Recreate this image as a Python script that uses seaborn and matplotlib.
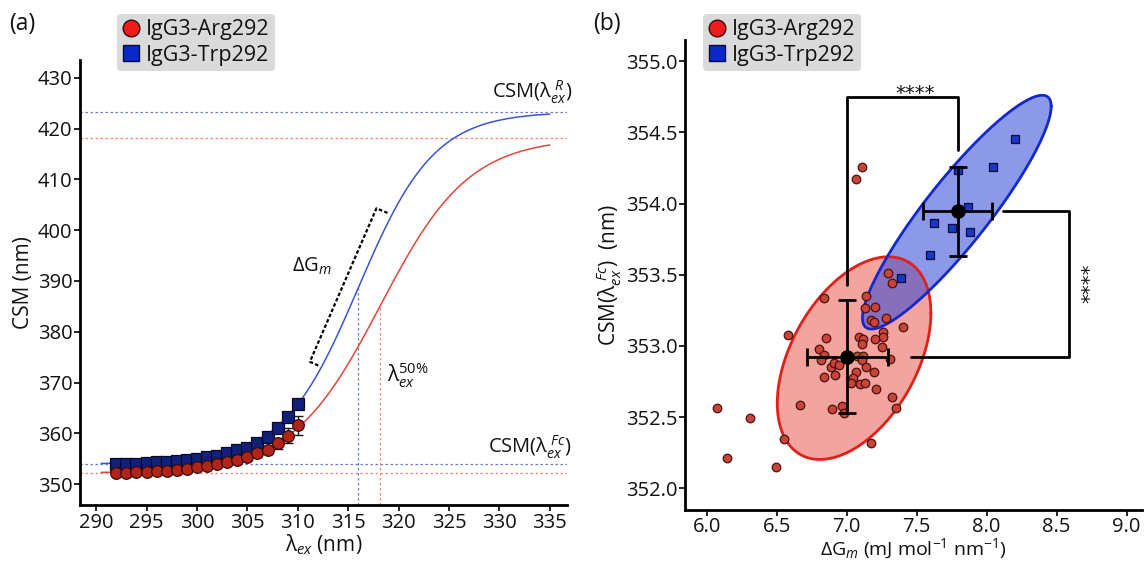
import numpy as np
import pandas as pd
import matplotlib
matplotlib.use("Agg")
import matplotlib.pyplot as plt
from matplotlib.lines import Line2D
import seaborn as sns

# ---------------- (a) CSM versus excitation wavelength ----------------
wavelength_nm = list(range(292, 311))
csm_arg = [352.23, 352.23, 352.31, 352.36, 352.50, 352.62, 352.82, 353.01, 353.29, 353.61,
           353.94, 354.33, 354.67, 355.26, 356.05, 356.76, 358.02, 359.52, 361.57]
csm_arg_err = [0.3, 0.3, 0.3, 0.3, 0.3, 0.3, 0.3, 0.35, 0.35, 0.4,
               0.4, 0.45, 0.5, 0.55, 0.65, 0.8, 1.0, 1.45, 1.85]
csm_trp = [354.00, 354.00, 354.00, 354.14, 354.28, 354.33, 354.53, 354.73, 354.93, 355.26,
           355.58, 356.05, 356.64, 357.15, 358.14, 359.32, 361.03, 363.14, 365.71]

# Sigmoid fits: lower plateau CSM(Fc), upper plateau CSM(R), midpoint lambda50%, slope
fit_arg = [352.2, 418.2, 318.2, 4.4]
fit_trp = [354.0, 423.3, 316.0, 3.77]
fit_wavelength_range = [290.5, 335.0]

# ---------------- (b) CSM(Fc) versus dGm, per sample ----------------
arg_dgm = [6.076, 6.311, 6.143, 6.492, 6.550, 6.581, 6.669, 6.841, 6.851, 6.800,
           6.836, 6.818, 6.890, 6.908, 6.944, 6.841, 6.920, 6.897, 6.968, 6.980,
           7.088, 7.116, 7.112, 7.140, 7.128, 7.202, 7.176, 7.195, 7.279, 7.260,
           7.260, 7.200, 7.250, 7.298, 7.327, 7.399, 7.076, 7.116, 7.107, 7.140,
           7.195, 7.310, 7.064, 7.045, 7.028, 7.095, 7.131, 7.212, 7.322, 7.351,
           7.176, 7.112, 7.064]
arg_csm = [352.560, 352.490, 352.210, 352.146, 352.345, 353.076, 352.584, 353.338, 353.053, 352.975,
           352.935, 352.900, 352.853, 352.881, 352.865, 352.783, 352.795, 352.553, 352.579, 352.530,
           353.060, 353.046, 353.010, 353.352, 353.268, 353.270, 353.181, 353.170, 353.193, 353.100,
           353.064, 353.046, 352.994, 353.510, 353.444, 353.130, 352.930, 352.928, 352.900, 352.853,
           352.818, 352.905, 352.818, 352.771, 352.736, 352.729, 352.740, 352.696, 352.642, 352.565,
           352.319, 354.260, 354.170]
trp_dgm = [8.200, 8.049, 7.793, 7.865, 7.626, 7.753, 7.882, 7.595, 7.387]
trp_csm = [354.452, 354.255, 354.236, 353.974, 353.861, 353.830, 353.798, 353.639, 353.475]

# Group mean +/- SD
mean_dgm = [7.005, 7.793]
mean_csm = [352.925, 353.945]
sd_dgm = [0.29, 0.245]
sd_csm = [0.395, 0.315]

# Distribution ellipses: centre and shape matrix (data units)
ellipse_arg_center = [7.053, 352.914]
ellipse_arg_shape = [[0.3011, 0.174], [0.174, 0.5075]]
ellipse_trp_center = [7.787, 353.940]
ellipse_trp_shape = [[0.4545, 0.5016], [0.5016, 0.6754]]

variant_labels = ["IgG3-Arg292", "IgG3-Trp292"]
significance = "****"

# ---------------- styling ----------------
sns.set_theme(style="ticks")
plt.rcParams.update({
    "font.family": ["Open Sans", "DejaVu Sans"],
    "mathtext.fontset": "custom",
    "mathtext.rm": "Open Sans",
    "mathtext.it": "Open Sans:italic",
    "mathtext.bf": "Open Sans:bold",
    "mathtext.fallback": "stixsans",
    "axes.edgecolor": "black",
    "axes.linewidth": 2.0,
    "xtick.color": "black",
    "ytick.color": "black",
    "xtick.major.size": 4,
    "ytick.major.size": 4,
    "xtick.major.width": 1.2,
    "ytick.major.width": 1.2,
    "xtick.labelsize": 14.5,
    "ytick.labelsize": 14.5,
    "axes.labelsize": 15,
    "axes.labelcolor": "#111111",
    "text.color": "#111111",
    "xtick.labelcolor": "#111111",
    "ytick.labelcolor": "#111111",
})

RED_LINE = "#e0473c"
BLUE_LINE = "#3a55d0"
RED_DOT = "#e88a84"
BLUE_DOT = "#6d7bc8"


def logistic(x, low, high, mid, slope):
    return low + (high - low) / (1.0 + np.exp(-(x - mid) / slope))


fig = plt.figure(figsize=(11.45, 5.62), dpi=100)
W, H = 1145.0, 562.0
axA = fig.add_axes([80 / W, 1 - 505 / H, (567 - 80) / W, (505 - 60) / H])
axB = fig.add_axes([685 / W, 1 - 509.5 / H, (1142 - 685) / W, (509.5 - 40) / H])

for ax in (axA, axB):
    sns.despine(ax=ax)
    ax.tick_params(direction="out", pad=1.5)

# ---------------- panel (a) ----------------
ylimA = (345.9, 433.5)
axA.set_xlim(288.4, 336.7)
axA.set_ylim(*ylimA)

xs = np.linspace(fit_wavelength_range[0], fit_wavelength_range[1], 400)
for params, line_col, dot_col in [(fit_trp, BLUE_LINE, BLUE_DOT), (fit_arg, RED_LINE, RED_DOT)]:
    low, high, mid, slope = params
    axA.axhline(high, color=dot_col, lw=0.9, ls=(0, (2, 2)), zorder=1)
    axA.axhline(low, color=dot_col, lw=0.9, ls=(0, (2, 2)), zorder=1)
    axA.vlines(mid, ylimA[0], (low + high) / 2.0, color=dot_col, lw=0.9,
               linestyles=[(0, (2, 2))], zorder=1)
    sns.lineplot(x=xs, y=logistic(xs, *params), ax=axA, color=line_col, lw=1.1, zorder=2)

scan = pd.DataFrame({"wavelength": wavelength_nm, "arg": csm_arg, "trp": csm_trp,
                     "arg_err": csm_arg_err})
sns.scatterplot(data=scan, x="wavelength", y="trp", ax=axA, marker="s", s=70,
                color="#12207a", edgecolor="#05082a", linewidth=0.9, zorder=3)
axA.errorbar(scan["wavelength"], scan["arg"], yerr=scan["arg_err"], fmt="none",
             ecolor="#1a1a1a", elinewidth=1.0, capsize=3.5, capthick=1.0, zorder=4)
sns.scatterplot(data=scan, x="wavelength", y="arg", ax=axA, marker="o", s=70,
                color="#b0241a", edgecolor="#3a0905", linewidth=0.9, zorder=5)

axA.set_xticks(np.arange(290, 336, 5))
axA.set_yticks(np.arange(350, 431, 10))
axA.set_xlabel("λ$_{ex}$ (nm)", labelpad=0)
axA.set_ylabel("CSM (nm)", labelpad=3)

# dGm bracket along the transition region
bx = [318.9, 317.8, 311.2, 312.1]
by = [403.4, 404.3, 374.1, 373.3]
axA.plot(bx, by, color="black", lw=1.6, ls=(0, (1.6, 1.0)), zorder=3)
axA.text(311.4, 392.8, "ΔG$_m$", fontsize=14.5, ha="center", va="center")
axA.text(318.8, 371.5, "λ$_{ex}^{\\mathit{50\\%}}$", fontsize=15, ha="left", va="center")
axA.text(337.2, 427.2, "CSM(λ$_{ex}^{\\ R}$)", fontsize=14.5, ha="right", va="center",
         clip_on=False)
axA.text(337.2, 357.2, "CSM(λ$_{ex}^{\\ Fc}$)", fontsize=14.5, ha="right", va="center",
         clip_on=False)

# ---------------- panel (b) ----------------
axB.set_xlim(5.845, 9.11)
axB.set_ylim(351.85, 355.15)

t = np.linspace(0, 2 * np.pi, 400)
circle = np.vstack([np.cos(t), np.sin(t)])
for center, shape, face, alpha, edge in [
        (ellipse_arg_center, ellipse_arg_shape, "#ec5a4f", 0.55, "#e0201a"),
        (ellipse_trp_center, ellipse_trp_shape, "#2e44d6", 0.55, "#1428d0")]:
    L = np.linalg.cholesky(np.array(shape))
    pts = np.array(center)[:, None] + L @ circle
    axB.fill(pts[0], pts[1], facecolor=face, alpha=alpha, edgecolor="none", zorder=1)
    axB.plot(pts[0], pts[1], color=edge, lw=2.0, zorder=2)

samples_arg = pd.DataFrame({"dgm": arg_dgm, "csm": arg_csm})
samples_trp = pd.DataFrame({"dgm": trp_dgm, "csm": trp_csm})
sns.scatterplot(data=samples_arg, x="dgm", y="csm", ax=axB, marker="o", s=38,
                color="#c8443a", edgecolor="#4a120c", linewidth=0.9, zorder=3)
sns.scatterplot(data=samples_trp, x="dgm", y="csm", ax=axB, marker="s", s=34,
                color="#1a36c4", edgecolor="#0a0f40", linewidth=0.9, zorder=3)

axB.errorbar(mean_dgm, mean_csm, xerr=sd_dgm, yerr=sd_csm, fmt="o", color="black",
             ms=9.5, elinewidth=2.0, capsize=6.5, capthick=2.0, zorder=5)

# significance brackets
axB.plot([mean_dgm[0], mean_dgm[0], mean_dgm[1], mean_dgm[1]],
         [353.43, 354.75, 354.75, 354.38], color="black", lw=2.0, zorder=4)
axB.plot([8.116, 8.586, 8.586, 7.46],
         [mean_csm[1], mean_csm[1], mean_csm[0], mean_csm[0]], color="black", lw=2.0, zorder=4)
axB.text(7.49, 354.775, significance, fontsize=14, ha="center", va="center",
         family="DejaVu Sans")
axB.text(8.735, 353.44, significance, fontsize=14, ha="center", va="center", rotation=90,
         family="DejaVu Sans")

axB.set_xticks(np.arange(6.0, 9.01, 0.5))
axB.set_yticks(np.arange(352.0, 355.01, 0.5))
axB.xaxis.set_major_formatter(matplotlib.ticker.FormatStrFormatter("%.1f"))
axB.yaxis.set_major_formatter(matplotlib.ticker.FormatStrFormatter("%.1f"))
axB.set_xlabel("ΔG$_m$ (mJ mol$^{-1}$ nm$^{-1}$)", fontsize=14, labelpad=0)
axB.set_ylabel("CSM(λ$_{ex}^{\\ Fc}$)  (nm)", labelpad=1)

# ---------------- legends and panel tags ----------------
handles = [
    Line2D([], [], ls="none", marker="o", ms=12, mfc="#ee1c1c", mec="#3a0808", mew=1.0),
    Line2D([], [], ls="none", marker="s", ms=11, mfc="#0a28c8", mec="#050a40", mew=1.0),
]
for x0 in (117, 703):
    fig.legend(handles, variant_labels, loc="upper left",
               bbox_to_anchor=(x0 / W, 1 - 14 / H), borderaxespad=0,
               fontsize=15.5, frameon=True, fancybox=True, framealpha=1,
               facecolor="#dadada", edgecolor="none", handlelength=0.8,
               handletextpad=0.3, labelspacing=0.2, borderpad=0.25)

fig.text(9 / W, 1 - 24 / H, "(a)", fontsize=16.5, va="center", ha="left")
fig.text(593 / W, 1 - 24 / H, "(b)", fontsize=16.5, va="center", ha="left")

fig.savefig("out.png", dpi=100)
